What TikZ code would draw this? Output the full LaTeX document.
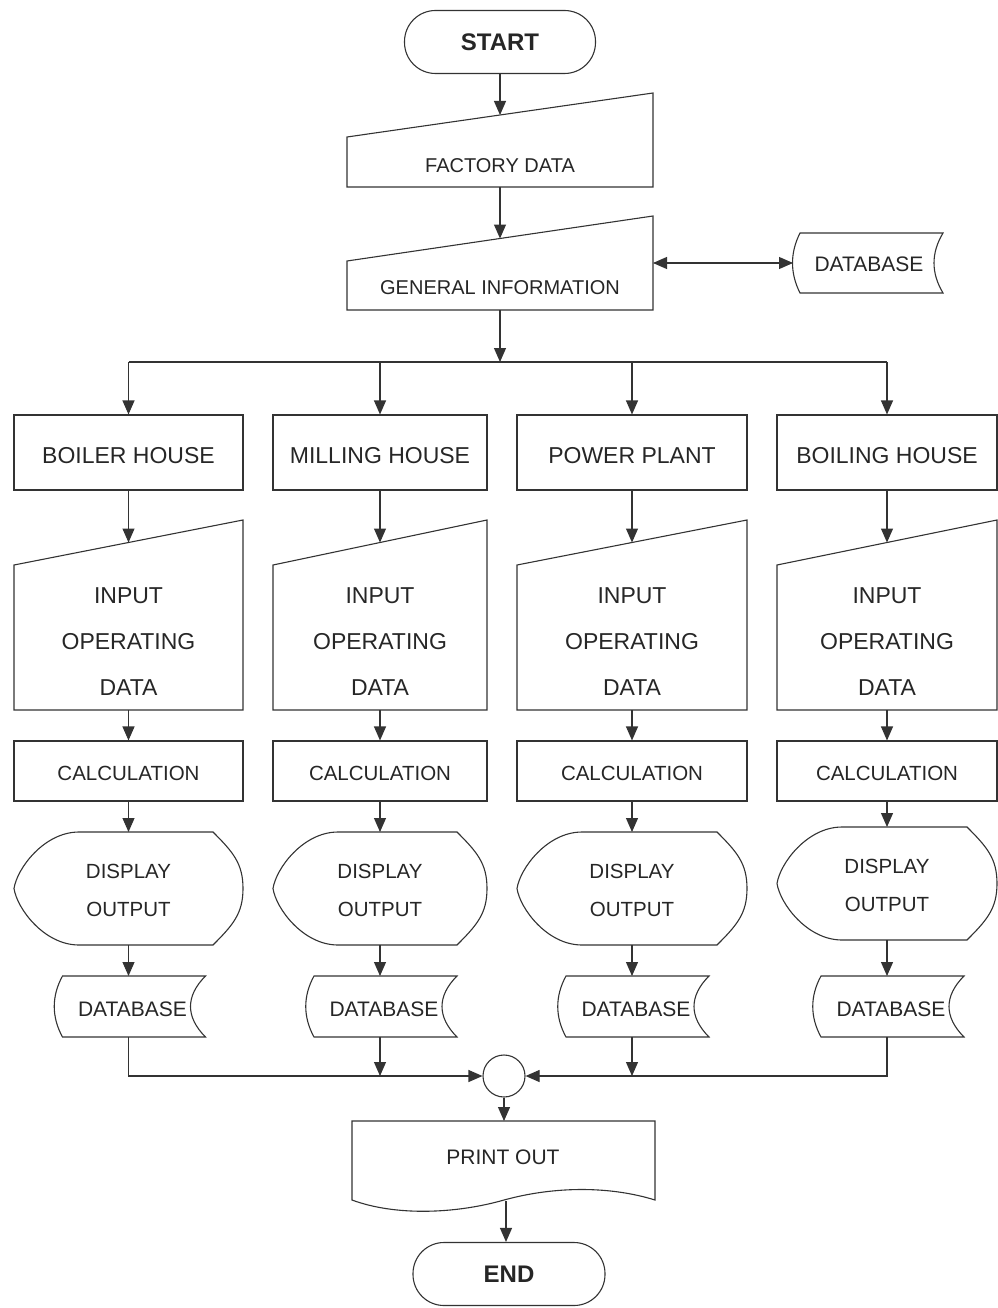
\documentclass[tikz,border=0pt]{standalone}
\usepackage{fontspec}
\setmainfont{Liberation Sans}
\usetikzlibrary{arrows.meta,calc}
\begin{document}
\begin{tikzpicture}[x=1pt,y=-1pt,
  ln/.style={draw=black!80, line width=1.1pt},
  arr/.style={ln, -{Triangle[length=14pt,width=12pt]}},
  darr/.style={ln, {Triangle[length=14pt,width=12pt]}-{Triangle[length=14pt,width=12pt]}},
  txt/.style={text=black!85, inner sep=0pt, align=center},
  boxn/.style={ln, rectangle, inner sep=0pt},
  term/.style={ln, rectangle, rounded corners=31pt, inner sep=0pt, text=black!85, font=\fontsize{24}{28}\selectfont\bfseries},
  fhouse/.style={font=\fontsize{23}{27}\selectfont},
  finput/.style={font=\fontsize{23}{46}\selectfont},
  fcalc/.style={font=\fontsize{20.5}{24}\selectfont},
  fdisp/.style={font=\fontsize{20.5}{38}\selectfont},
  fdb/.style={font=\fontsize{21}{25}\selectfont},
  ftop/.style={font=\fontsize{20}{24}\selectfont}
]
\useasboundingbox (0,0) rectangle (997,1308);

% START
\node[term, minimum width=191pt, minimum height=63pt] (start) at (500,42) {START};

% FACTORY DATA
\draw[ln] (347,137) -- (653,93) -- (653,187) -- (347,187) -- cycle;
\node[txt, ftop] (fd) at (500,166) {FACTORY DATA};
\coordinate (fdtop) at (500,115);
\coordinate (fdbot) at (500,187);
\draw[arr] (start) -- (fdtop);

% GENERAL INFORMATION
\draw[ln] (347,261) -- (653,216) -- (653,310) -- (347,310) -- cycle;
\node[txt, ftop] (gi) at (500,288) {GENERAL INFORMATION};
\coordinate (gitop) at (500,238.5);
\coordinate (gibot) at (500,310);
\coordinate (giright) at (653,263);
\draw[arr] (fdbot) -- (gitop);

% DATABASE (top right)
\draw[ln] (800,233) -- (943,233) .. controls (931,253) and (931,273) .. (943,293)
  -- (800,293) .. controls (790,273) and (790,253) .. cycle;
\node[txt, fdb] (db0) at (869,264) {DATABASE};
\coordinate (db0left) at (793,263);
\draw[darr] (giright) -- (db0left);

% branch
\coordinate (brc) at (500,362);
\draw[arr] (gibot) -- (brc);
\coordinate (brl) at (128.5,362);
\coordinate (brr) at (887,362);
\draw[ln] (brl) -- (brr);

% junction circle
\node[ln, circle, minimum size=42pt, inner sep=0pt] (circ) at (504,1076) {};

\foreach \i/\L/\R/\lab/\dd in {1/14/243/BOILER HOUSE/0, 2/273/487/MILLING HOUSE/0, 3/517/747/POWER PLANT/0, 4/777/997/BOILING HOUSE/-5}{
  \pgfmathsetmacro\cx{(\L+\R)/2}
  \pgfmathsetmacro\w{\R-\L}
  \pgfmathsetmacro\T{832+\dd}
  \pgfmathsetmacro\B{945+\dd}
  \pgfmathsetmacro\M{(\T+\B)/2}
  % house box
  \coordinate (br\i) at (\cx,362);
  \node[boxn, minimum width=\w pt, minimum height=75pt] (h\i) at (\cx,452.5) {};
  \node[txt, fhouse] (ht\i) at (\cx,456) {\lab};
  \draw[arr] (br\i) -- (h\i.north);
  % input operating data
  \draw[ln] (\L,565) -- (\R,520) -- (\R,710) -- (\L,710) -- cycle;
  \node[txt, finput] (it\i) at (\cx,641.5) {INPUT\\OPERATING\\DATA};
  \coordinate (in\i t) at (\cx,542.5);
  \coordinate (in\i b) at (\cx,710);
  \draw[arr] (h\i.south) -- (in\i t);
  % calculation
  \node[boxn, minimum width=\w pt, minimum height=60pt] (c\i) at (\cx,771) {};
  \node[txt, fcalc] (ct\i) at (\cx,773) {CALCULATION};
  \draw[arr] (in\i b) -- (c\i.north);
  % display output
  \draw[ln] ({\L+65},\T) -- ({\R-30},\T)
     .. controls ({\R-10},{\T+20}) and (\R,{\M-25}) .. (\R,\M)
     .. controls (\R,{\M+25}) and ({\R-10},{\B-20}) .. ({\R-30},\B)
     -- ({\L+65},\B)
     .. controls ({\L+30},\B) and ({\L+3},{\M+20}) .. (\L,\M)
     .. controls ({\L+3},{\M-20}) and ({\L+30},\T) .. cycle;
  \node[txt, fdisp] (dt\i) at (\cx,{\M+2}) {DISPLAY\\OUTPUT};
  \coordinate (d\i t) at (\cx,\T);
  \coordinate (d\i b) at (\cx,\B);
  \draw[arr] (c\i.south) -- (d\i t);
  % database
  \draw[ln] ({\cx-66},976) -- ({\cx+77},976)
     .. controls ({\cx+57},996) and ({\cx+57},1017) .. ({\cx+77},1037)
     -- ({\cx-66},1037)
     .. controls ({\cx-77},1017) and ({\cx-77},996) .. cycle;
  \node[txt, fdb] (dbt\i) at ({\cx+4},1009) {DATABASE};
  \coordinate (db\i t) at (\cx,976);
  \coordinate (db\i b) at (\cx,1037);
  \draw[arr] (d\i b) -- (db\i t);
}

% merging
\draw[arr] (db1b) |- (circ.west);
\coordinate (m2) at (380,1076);
\draw[arr] (db2b) -- (m2);
\coordinate (m3) at (632,1076);
\draw[arr] (db3b) -- (m3);
\draw[arr] (db4b) |- (circ.east);

% PRINT OUT
\draw[ln] (352,1121) -- (655,1121) -- (655,1200)
  .. controls (610,1186) and (555,1186) .. (504,1200)
  .. controls (455,1214) and (395,1216) .. (352,1200) -- cycle;
\node[txt, fdb] (pt) at (503,1157) {PRINT OUT};
\coordinate (prtop) at (504,1121);
\coordinate (prbot) at (506,1201);
\draw[arr] (circ.south) -- (prtop);

% END
\node[term, minimum width=192pt, minimum height=63pt] (endn) at (509,1274) {END};
\draw[arr] (prbot) -- (prbot |- endn.north);
\end{tikzpicture}
\end{document}
